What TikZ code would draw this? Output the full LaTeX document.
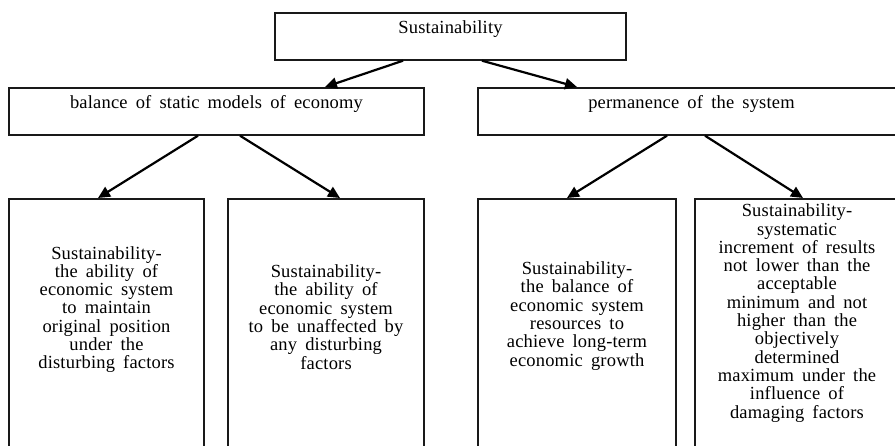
\documentclass[tikz,border=0pt]{standalone}
\usepackage{fontspec}
\setmainfont[WordSpace=1.7,LetterSpace=1]{Liberation Serif}
\usetikzlibrary{arrows.meta}
\begin{document}
\begin{tikzpicture}[x=1pt,y=-1pt,
  frame/.style={draw=black!90, line width=1.7pt, rectangle, inner sep=0pt},
  headbox/.style={frame, anchor=north, minimum height=47pt, text height=21pt, text depth=26pt, align=center},
  leafbox/.style={frame, anchor=north, minimum height=300pt},
  leaftext/.style={align=center, inner sep=0pt},
  arr/.style={line width=2.2pt, -{Triangle[length=12pt,width=11pt]}},
  font=\fontsize{18.5}{18.3}\selectfont]
\useasboundingbox (0,0) rectangle (895,445);
\clip (0,0) rectangle (895,445);

% root
\node[headbox, minimum width=351pt] (top) at (450.5,12) {Sustainability};

% second level
\node[headbox, minimum width=415pt] (bal) at (216.5,87) {balance of static models of economy};
\node[headbox, minimum width=427pt] (perm) at (691.5,87) {permanence of the system};

% leaf frames (open at the bottom of the page)
\node[leafbox, minimum width=195pt] (f1) at (106.5,198) {};
\node[leafbox, minimum width=196pt] (f2) at (326,198) {};
\node[leafbox, minimum width=198pt] (f3) at (577,198) {};
\node[leafbox, minimum width=204pt] (f4) at (797,198) {};

% leaf texts
\node[leaftext] (t1) at (106.5,309.5) {Sustainability-\\the ability of\\economic system\\to maintain\\original position\\under the\\disturbing factors};
\node[leaftext] (t2) at (326,317) {Sustainability-\\the ability of\\economic system\\to be unaffected by\\any disturbing\\factors};
\node[leaftext] (t3) at (577,316) {Sustainability-\\the balance of\\economic system\\resources to\\achieve long-term\\economic growth};
\node[leaftext] (t4) at (797,313) {Sustainability-\\systematic\\increment of results\\not lower than the\\acceptable\\minimum and not\\higher than the\\objectively\\determined\\maximum under the\\influence of\\damaging factors};

% connectors
\draw[arr] ([xshift=-47.5pt]top.south) -- ([xshift=108.5pt]bal.north);
\draw[arr] ([xshift=31.5pt]top.south) -- ([xshift=-114.5pt]perm.north);
\draw[arr] ([xshift=-18.5pt]bal.south) -- ([xshift=-8.5pt]f1.north);
\draw[arr] ([xshift=23.5pt]bal.south) -- ([xshift=14pt]f2.north);
\draw[arr] ([xshift=-24.5pt]perm.south) -- ([xshift=-10pt]f3.north);
\draw[arr] ([xshift=13.5pt]perm.south) -- ([xshift=6pt]f4.north);
\end{tikzpicture}
\end{document}
